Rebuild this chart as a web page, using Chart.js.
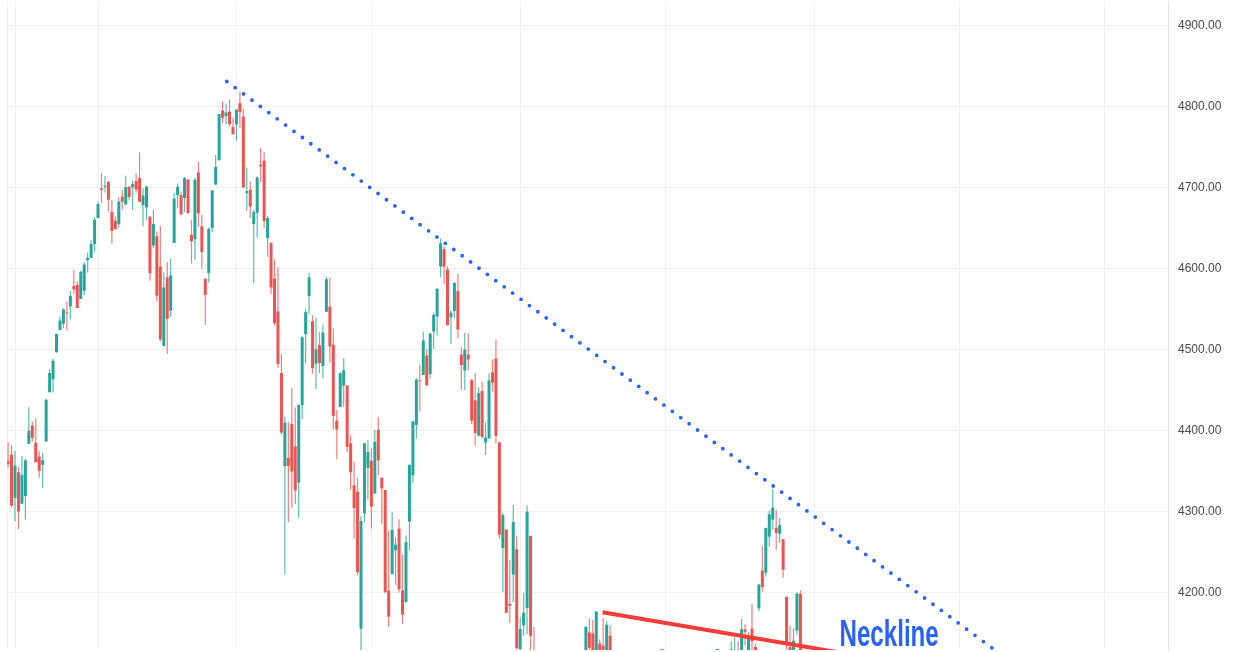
<!DOCTYPE html>
<html><head><meta charset="utf-8">
<script src="https://cdn.jsdelivr.net/npm/chart.js@4"></script>
<style>html,body{margin:0;padding:0;background:#fff;overflow:hidden}</style>
</head><body><canvas id="c" width="1237" height="652"></canvas>
<script>
// ---- data: S&P 500 daily candles (trading-day index = array position) ----
const dates = [
'2021-09-29','2021-09-30',
'2021-10-01','2021-10-04','2021-10-05','2021-10-06','2021-10-07','2021-10-08','2021-10-11','2021-10-12','2021-10-13','2021-10-14','2021-10-15','2021-10-18','2021-10-19','2021-10-20','2021-10-21','2021-10-22','2021-10-25','2021-10-26','2021-10-27','2021-10-28','2021-10-29',
'2021-11-01','2021-11-02','2021-11-03','2021-11-04','2021-11-05','2021-11-08','2021-11-09','2021-11-10','2021-11-11','2021-11-12','2021-11-15','2021-11-16','2021-11-17','2021-11-18','2021-11-19','2021-11-22','2021-11-23','2021-11-24','2021-11-26','2021-11-29','2021-11-30',
'2021-12-01','2021-12-02','2021-12-03','2021-12-06','2021-12-07','2021-12-08','2021-12-09','2021-12-10','2021-12-13','2021-12-14','2021-12-15','2021-12-16','2021-12-17','2021-12-20','2021-12-21','2021-12-22','2021-12-23','2021-12-27','2021-12-28','2021-12-29','2021-12-30','2021-12-31',
'2022-01-03','2022-01-04','2022-01-05','2022-01-06','2022-01-07','2022-01-10','2022-01-11','2022-01-12','2022-01-13','2022-01-14','2022-01-18','2022-01-19','2022-01-20','2022-01-21','2022-01-24','2022-01-25','2022-01-26','2022-01-27','2022-01-28','2022-01-31',
'2022-02-01','2022-02-02','2022-02-03','2022-02-04','2022-02-07','2022-02-08','2022-02-09','2022-02-10','2022-02-11','2022-02-14','2022-02-15','2022-02-16','2022-02-17','2022-02-18','2022-02-22','2022-02-23','2022-02-24','2022-02-25','2022-02-28',
'2022-03-01','2022-03-02','2022-03-03','2022-03-04','2022-03-07','2022-03-08','2022-03-09','2022-03-10','2022-03-11','2022-03-14','2022-03-15','2022-03-16','2022-03-17','2022-03-18','2022-03-21','2022-03-22','2022-03-23','2022-03-24','2022-03-25','2022-03-28','2022-03-29','2022-03-30','2022-03-31',
'2022-04-01','2022-04-04','2022-04-05','2022-04-06','2022-04-07','2022-04-08','2022-04-11','2022-04-12','2022-04-13','2022-04-14','2022-04-18','2022-04-19','2022-04-20','2022-04-21','2022-04-22','2022-04-25','2022-04-26','2022-04-27','2022-04-28','2022-04-29',
'2022-05-02','2022-05-03','2022-05-04','2022-05-05','2022-05-06','2022-05-09','2022-05-10','2022-05-11','2022-05-12','2022-05-13','2022-05-16','2022-05-17','2022-05-18','2022-05-19','2022-05-20','2022-05-23','2022-05-24','2022-05-25','2022-05-26','2022-05-27','2022-05-31',
'2022-06-01','2022-06-02','2022-06-03','2022-06-06','2022-06-07','2022-06-08','2022-06-09','2022-06-10','2022-06-13','2022-06-14','2022-06-15','2022-06-16','2022-06-17','2022-06-21','2022-06-22','2022-06-23','2022-06-24','2022-06-27','2022-06-28','2022-06-29','2022-06-30',
'2022-07-01','2022-07-05','2022-07-06','2022-07-07','2022-07-08','2022-07-11','2022-07-12','2022-07-13','2022-07-14','2022-07-15','2022-07-18','2022-07-19','2022-07-20','2022-07-21','2022-07-22','2022-07-25','2022-07-26','2022-07-27','2022-07-28','2022-07-29',
'2022-08-01','2022-08-02','2022-08-03','2022-08-04','2022-08-05','2022-08-08','2022-08-09','2022-08-10','2022-08-11','2022-08-12','2022-08-15','2022-08-16','2022-08-17','2022-08-18','2022-08-19','2022-08-22','2022-08-23','2022-08-24','2022-08-25','2022-08-26'
];
const open = [
4362.4,4370.7,
4317.2,4348.8,4309.9,4319.6,4383.7,4406.5,4385.4,4368.3,4358.0,4386.8,4447.7,4463.7,4497.3,4524.4,4532.2,4546.1,4553.7,4578.7,4580.2,4562.8,4572.9,
4610.6,4613.3,4630.7,4662.9,4699.3,4701.5,4707.3,4670.3,4659.4,4655.2,4689.3,4679.4,4701.5,4700.7,4708.4,4712.0,4678.5,4675.8,4664.6,4628.8,4640.2,
4602.8,4504.7,4589.5,4548.4,4632.0,4690.9,4691.0,4687.6,4710.3,4642.0,4636.5,4719.1,4652.5,4587.9,4595.0,4650.4,4704.0,4734.0,4795.5,4788.6,4794.2,4775.2,
4778.1,4804.5,4788.0,4693.4,4697.7,4655.3,4669.1,4728.6,4733.6,4638.0,4632.2,4588.0,4547.4,4471.4,4356.3,4366.6,4408.4,4380.6,4336.2,4431.8,
4519.6,4566.4,4535.4,4482.8,4505.8,4480.0,4547.0,4553.2,4506.3,4412.6,4429.3,4455.8,4456.1,4384.6,4332.7,4324.9,4155.8,4298.4,4354.2,
4363.1,4322.6,4401.3,4342.1,4327.0,4202.7,4223.1,4252.6,4279.5,4202.8,4188.8,4288.1,4345.1,4407.3,4462.4,4469.1,4493.1,4470.0,4522.7,4541.1,4602.9,4624.2,4599.0,
4540.3,4548.0,4572.5,4494.2,4474.7,4494.2,4462.6,4437.6,4394.3,4449.1,4385.6,4390.6,4472.3,4489.2,4385.8,4255.3,4278.1,4186.5,4222.6,4253.8,
4130.6,4159.8,4181.2,4270.4,4128.2,4081.3,4035.2,3990.1,3904.0,3963.9,4013.0,4052.0,4052.0,3899.0,3927.8,3919.4,3942.9,3929.6,3984.6,4077.4,4151.1,
4149.8,4095.4,4137.6,4134.7,4096.5,4147.1,4101.7,3974.4,3838.2,3763.5,3764.1,3728.2,3665.9,3715.3,3733.9,3774.7,3821.8,3920.8,3913.0,3825.1,3786.0,
3781.0,3792.6,3832.0,3858.9,3888.3,3880.9,3852.0,3779.7,3764.0,3818.0,3883.8,3860.7,3935.3,3955.5,4000.2,3965.7,3953.2,3951.4,4026.1,4087.3,
4112.4,4104.2,4108.0,4154.9,4115.9,4155.9,4133.1,4181.0,4227.4,4225.0,4269.4,4290.5,4280.4,4273.1,4266.3,4195.1,4133.1,4126.6,4153.3,4198.7
];
const high = [
4385.6,4382.6,
4375.2,4355.5,4369.2,4365.6,4429.0,4412.0,4415.9,4374.9,4372.9,4439.7,4475.8,4488.8,4520.4,4540.9,4551.4,4559.7,4572.6,4598.5,4584.6,4597.6,4608.1,
4620.3,4635.2,4663.5,4683.0,4718.5,4714.9,4708.5,4684.9,4664.6,4688.5,4697.4,4714.9,4701.5,4708.8,4717.8,4743.8,4699.4,4702.9,4664.6,4672.9,4646.0,
4652.9,4595.5,4608.0,4612.6,4694.0,4705.1,4695.3,4713.6,4710.3,4660.5,4712.6,4732.0,4666.7,4587.9,4651.1,4697.7,4740.7,4791.5,4807.0,4804.1,4808.9,4786.8,
4796.6,4818.6,4797.7,4725.0,4708.0,4673.0,4714.1,4748.8,4744.1,4665.1,4632.2,4611.6,4602.1,4494.5,4417.4,4411.0,4453.2,4428.7,4432.7,4516.9,
4550.5,4595.3,4542.9,4539.7,4521.9,4531.3,4590.0,4588.9,4526.3,4426.2,4472.8,4489.6,4456.1,4394.6,4362.1,4341.5,4294.7,4385.3,4388.8,
4378.5,4401.5,4416.8,4342.1,4327.0,4276.9,4299.4,4268.3,4291.0,4247.6,4271.1,4358.9,4412.7,4465.4,4481.8,4522.0,4501.1,4520.6,4546.0,4575.7,4637.3,4627.8,4603.1,
4548.7,4583.5,4593.5,4503.9,4521.2,4520.4,4464.4,4471.0,4453.9,4460.5,4410.3,4471.0,4488.3,4512.9,4385.8,4299.0,4278.1,4240.7,4308.5,4269.7,
4169.8,4200.1,4307.7,4270.4,4157.7,4081.3,4068.8,4049.1,3964.8,4038.9,4046.5,4090.7,4052.0,3946.0,3943.4,3981.9,3955.7,3999.3,4075.1,4158.5,4168.3,
4166.5,4177.5,4142.7,4168.8,4164.9,4160.1,4119.1,3974.4,3838.2,3778.2,3837.1,3728.2,3707.7,3779.7,3801.8,3802.6,3913.7,3927.7,3945.9,3836.5,3819.0,
3829.8,3832.2,3870.9,3910.6,3918.5,3880.9,3873.4,3829.4,3796.4,3863.6,3902.4,3939.8,3974.1,3999.3,4012.4,3975.3,3953.2,4039.6,4079.0,4140.2,
4145.0,4140.5,4167.7,4161.3,4151.6,4186.6,4137.3,4211.0,4257.9,4280.5,4301.8,4328.0,4302.2,4292.5,4266.3,4195.1,4159.8,4156.6,4200.5,4203.0
];
const low = [
4355.1,4306.0,
4288.5,4278.9,4309.9,4290.5,4383.7,4386.2,4360.6,4342.1,4329.9,4386.8,4447.7,4447.5,4496.4,4524.4,4526.9,4524.0,4537.4,4569.2,4551.7,4562.8,4567.6,
4595.1,4613.3,4621.2,4662.6,4681.3,4694.4,4670.9,4630.9,4648.3,4650.8,4672.9,4679.4,4684.4,4672.8,4694.2,4682.2,4652.7,4659.9,4585.4,4625.3,4560.0,
4510.3,4504.7,4495.1,4540.5,4632.0,4674.5,4666.0,4670.2,4667.6,4606.5,4611.2,4651.9,4600.2,4531.1,4583.2,4645.5,4704.0,4734.0,4780.0,4778.1,4775.3,4765.8,
4758.2,4774.3,4699.4,4671.3,4662.7,4582.2,4638.3,4706.7,4650.3,4614.8,4568.7,4530.2,4478.0,4395.3,4222.6,4287.1,4304.8,4309.5,4292.5,4414.0,
4483.5,4544.3,4470.4,4451.5,4471.5,4465.4,4547.0,4484.3,4401.4,4364.8,4429.3,4429.7,4373.8,4327.2,4267.1,4221.5,4114.7,4286.8,4315.1,
4279.5,4322.6,4345.6,4285.0,4199.9,4157.9,4223.1,4209.8,4200.5,4161.7,4187.9,4252.0,4335.7,4390.6,4424.3,4469.1,4455.8,4465.2,4501.1,4517.7,4589.7,4581.3,4530.4,
4507.6,4539.2,4514.2,4450.0,4450.3,4474.6,4408.4,4381.3,4392.7,4390.8,4370.3,4390.6,4448.8,4384.5,4267.6,4200.8,4175.0,4162.9,4188.6,4124.3,
4062.5,4147.1,4148.9,4106.0,4067.9,3975.5,3958.2,3928.8,3858.9,3963.9,3984.0,4033.9,3911.9,3876.6,3810.3,3909.0,3875.1,3925.0,3984.6,4077.4,4104.9,
4073.9,4074.4,4098.7,4109.2,4080.2,4107.2,4017.2,3900.2,3734.3,3724.6,3722.3,3639.8,3643.4,3715.3,3717.7,3743.5,3821.8,3889.7,3820.1,3799.0,3738.7,
3752.1,3742.1,3809.4,3858.9,3869.3,3847.2,3802.4,3759.1,3721.6,3817.2,3818.6,3860.7,3922.0,3926.6,3938.8,3943.5,3910.7,3951.4,3993.0,4079.2,
4096.0,4079.8,4108.0,4135.4,4107.3,4129.0,4112.1,4177.3,4201.4,4219.8,4256.9,4277.8,4253.1,4262.0,4218.7,4129.9,4124.0,4120.0,4147.6,4057.7
];
const close = [
4359.5,4307.5,
4357.0,4300.5,4345.7,4363.6,4399.8,4391.3,4361.2,4350.7,4363.8,4438.3,4471.4,4486.5,4519.6,4536.2,4549.8,4544.9,4566.5,4574.8,4551.7,4596.4,4605.4,
4613.7,4630.7,4660.6,4680.1,4697.5,4701.7,4685.3,4646.7,4649.3,4682.9,4682.8,4700.9,4688.7,4704.5,4698.0,4682.9,4690.7,4701.5,4594.6,4655.3,4567.0,
4513.0,4577.1,4538.4,4591.7,4686.8,4701.2,4667.5,4712.0,4669.0,4634.1,4709.9,4668.7,4620.6,4568.0,4649.2,4696.6,4725.8,4791.2,4786.4,4793.1,4778.7,4766.2,
4796.6,4793.5,4700.6,4696.1,4677.0,4670.3,4713.1,4726.4,4659.0,4662.9,4577.1,4532.8,4482.7,4397.9,4410.1,4356.5,4349.9,4326.5,4431.9,4515.6,
4546.5,4589.4,4477.4,4500.5,4483.9,4521.5,4587.2,4504.1,4418.6,4401.7,4471.1,4475.0,4380.3,4348.9,4304.8,4225.5,4288.7,4384.7,4373.9,
4306.3,4386.5,4363.5,4328.9,4201.1,4170.7,4277.9,4259.5,4204.3,4173.1,4262.5,4357.9,4411.7,4463.1,4461.2,4511.6,4456.2,4520.2,4543.1,4575.5,4631.6,4602.5,4530.4,
4545.9,4582.6,4525.1,4481.2,4500.2,4488.3,4412.5,4397.5,4446.6,4392.6,4391.7,4462.2,4459.5,4393.7,4271.8,4296.1,4175.2,4184.0,4287.5,4131.9,
4155.4,4175.5,4300.2,4146.9,4123.3,3991.2,4001.1,3935.2,3930.1,4023.9,4008.0,4088.9,3923.7,3900.8,3901.4,3973.8,3941.5,3978.7,4057.8,4158.2,4132.2,
4101.2,4176.8,4108.5,4121.4,4160.7,4115.8,4017.8,3900.9,3749.6,3735.5,3790.0,3666.8,3674.8,3764.8,3759.9,3795.7,3911.7,3900.1,3821.6,3818.8,3785.4,
3825.3,3831.4,3845.1,3902.6,3899.4,3854.4,3818.8,3801.8,3790.4,3863.2,3830.9,3936.7,3959.9,3999.0,3961.6,3966.8,3921.1,4023.6,4072.4,4130.3,
4118.6,4091.2,4155.2,4151.9,4145.2,4140.1,4122.5,4210.2,4207.3,4280.2,4297.1,4305.2,4274.0,4283.7,4228.5,4138.0,4128.7,4140.8,4199.1,4057.7
];
// price-axis tick labels
const priceTicks = [4200, 4300, 4400, 4500, 4600, 4700, 4800, 4900];
// vertical grid lines (trading-day index)
const gridDays = [2, 26, 66, 105, 148, 190, 233, 275, 317];
// dotted resistance trend line (day index, price)
const trendDays = [63.2, 287];
const trendPrices = [4831.3, 4123.7];
// neckline (day index, price)
const neckDays = [171.8, 242];
const neckPrices = [4176.1, 4125.1];
// annotation
const neckLabel = {text: 'Neckline', day: 240.3, price: 4134.4};

// ---- layout calibration constants ----
const DAY0_PX = 8.08, DAY_STEP = 3.46, P_HI = 4900, P_HI_PX = 24, P_LO = 4200, P_LO_PX = 594.5;

const UP = '#26a69a', DOWN = '#ef5350';
const UPW = 'rgba(38,166,154,0.75)', DOWNW = 'rgba(239,83,80,0.75)';
const isUp = close.map((c, i) => c >= open[i]);
const bodyData = dates.map((d, i) => ({x: i, y: [open[i], close[i]]}));
const wickData = dates.map((d, i) => ({x: i, y: [low[i], high[i]]}));

function textW(font){const c=document.createElement('canvas').getContext('2d');c.font=font;return c.measureText('4900.00').width;}
const hasNarrow = Math.abs(textW('15px "Liberation Sans Narrow", monospace') - textW('15px monospace')) > 0.5;
const tickFont = hasNarrow ? {family: '"Liberation Sans Narrow", sans-serif', size: 15}
                           : {family: '"Liberation Sans", Arial, sans-serif', size: 12};

const labelPlugin = {
  id: 'necklabel',
  afterDatasetsDraw(chart) {
    const {ctx, scales: {x, y}} = chart;
    const px = x.getPixelForValue(neckLabel.day), py = y.getPixelForValue(neckLabel.price);
    ctx.save();
    ctx.font = 'bold 36px "Liberation Sans", Arial, sans-serif';
    ctx.fillStyle = '#2962ff';
    ctx.textBaseline = 'alphabetic';
    ctx.textAlign = 'left';
    ctx.translate(px, py);
    ctx.scale(0.67, 1);
    ctx.fillText(neckLabel.text, 0, 0);
    ctx.restore();
  }
};

const chart = new Chart(document.getElementById('c'), {
  type: 'bar',
  data: {
    labels: dates,
    datasets: [
      {type: 'line', data: trendDays.map((d, k) => ({x: d, y: trendPrices[k]})), borderColor: '#2962ff',
       borderWidth: 3.8, borderDash: [0, 10.46], borderCapStyle: 'round', pointRadius: 0, tension: 0, order: 0},
      {type: 'line', data: neckDays.map((d, k) => ({x: d, y: neckPrices[k]})), borderColor: '#f23d3a',
       borderWidth: 4, pointRadius: 0, tension: 0, order: 0},
      {type: 'bar', data: bodyData, backgroundColor: isUp.map(u => u ? UP : DOWN), barThickness: 3,
       grouped: false, order: 1, minBarLength: 1, inflateAmount: 0, borderWidth: 0},
      {type: 'bar', data: wickData, backgroundColor: isUp.map(u => u ? UPW : DOWNW), barThickness: 1.2,
       grouped: false, order: 2, inflateAmount: 0, borderWidth: 0}
    ]
  },
  options: {
    responsive: false, animation: false, devicePixelRatio: 1,
    layout: {padding: {left: 7, right: 0, top: 0, bottom: 0}},
    plugins: {legend: {display: false}, tooltip: {enabled: false}},
    scales: {
      x: {type: 'linear', offset: false, min: -0.31, max: 335.2,
          grid: {color: '#eef0f4', drawTicks: false, offset: false}, border: {display: false}, ticks: {display: false},
          afterBuildTicks(s) { s.ticks = [s.min, ...gridDays].map(v => ({value: v})); },
          afterFit(s) { s.height = 0; s.paddingLeft = 0; s.paddingRight = 0; s.paddingTop = 0; s.paddingBottom = 0; }},
      y: {position: 'right', min: 4129.4, max: 4929.4,
          grid: {color: '#eef0f4', drawTicks: false, offset: false}, border: {color: '#e1e3ea'},
          ticks: {padding: 10, color: '#4a4a4a', font: tickFont, callback: v => Number(v).toFixed(2)},
          afterBuildTicks(s) { s.ticks = priceTicks.map(v => ({value: v})); },
          afterFit(s) { s.width = 69; s.paddingTop = 0; s.paddingBottom = 0; }}
    }
  },
  plugins: [labelPlugin]
});

// calibrate axis ranges to the plot area
(function calibrate() {
  const a = chart.chartArea;
  const ppv = (P_LO_PX - P_HI_PX) / (P_HI - P_LO);
  chart.options.scales.y.max = P_HI + (P_HI_PX - a.top) / ppv;
  chart.options.scales.y.min = P_LO - (a.bottom - P_LO_PX) / ppv;
  chart.options.scales.x.min = (a.left - DAY0_PX) / DAY_STEP;
  chart.options.scales.x.max = (a.right - DAY0_PX) / DAY_STEP;
  chart.update('none');
})();
</script>
</body></html>
